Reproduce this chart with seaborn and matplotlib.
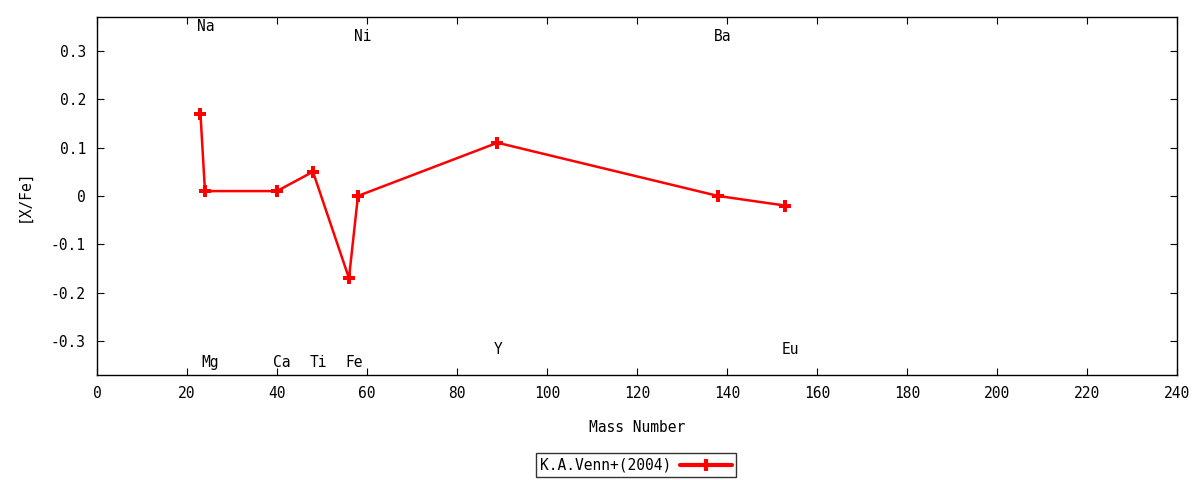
import matplotlib
matplotlib.use("Agg")
import matplotlib.pyplot as plt
import seaborn as sns
import pandas as pd
from matplotlib.lines import Line2D

# K.A.Venn+(2004) abundances
elements = ['Na', 'Mg', 'Ca', 'Ti', 'Fe', 'Ni', 'Y', 'Ba', 'Eu']
mass_number = [23, 24, 40, 48, 56, 58, 89, 138, 153]
x_fe = [0.17, 0.01, 0.01, 0.05, -0.17, 0.0, 0.11, 0.0, -0.02]
label_y = [0.35, -0.345, -0.345, -0.345, -0.345, 0.33, -0.317, 0.33, -0.317]

df = pd.DataFrame({'element': elements, 'mass': mass_number, 'xfe': x_fe})

sns.set_style('ticks')
plt.rcParams['font.family'] = ['DejaVu Sans Mono', 'DejaVu Sans']
plt.rcParams['text.color'] = 'black'
plt.rcParams['axes.labelcolor'] = 'black'
plt.rcParams['xtick.color'] = 'black'
plt.rcParams['ytick.color'] = 'black'

fig = plt.figure(figsize=(12, 4.8), dpi=100)
ax = fig.add_axes([0.0808, 0.219, 0.9, 0.7456])

sns.lineplot(data=df, x='mass', y='xfe', color='red', linewidth=1.8,
             marker='P', markersize=8, markeredgewidth=0, sort=False,
             ax=ax, legend=False)

# element labels
for el, m, ly in zip(elements, mass_number, label_y):
    ax.text(m - 0.8, ly, el, ha='left', va='center', fontsize=10.5)

ax.set_xlim(0, 240)
ax.set_ylim(-0.37, 0.37)
ax.set_xticks(range(0, 241, 20))
ax.set_yticks([-0.3, -0.2, -0.1, 0, 0.1, 0.2, 0.3])
ax.set_yticklabels(['-0.3', '-0.2', '-0.1', '0', '0.1', '0.2', '0.3'])
ax.tick_params(direction='in', top=True, right=True, length=5, labelsize=10.5, pad=8)
for s in ax.spines.values():
    s.set_linewidth(1.0)
    s.set_color('black')

ax.set_xlabel('Mass Number', fontsize=10.5, labelpad=14)
ax.set_ylabel('[X/Fe]', fontsize=10.5, labelpad=14)

handle = Line2D([0], [0], color='red', linewidth=3, marker='|', markersize=8,
                markeredgewidth=3)
leg = fig.legend([handle], ['K.A.Venn+(2004)'], loc='center',
                 bbox_to_anchor=(0.53, 0.031), frameon=True, fancybox=False,
                 fontsize=10.5, markerfirst=False, handlelength=3.5,
                 borderpad=0.3, borderaxespad=0, handletextpad=0.6,
                 edgecolor='black')
leg.get_frame().set_linewidth(1.0)
leg._legend_box.align = 'center'
for t in leg.get_texts():
    t.set_color('black')

fig.savefig('out.png', dpi=100)
